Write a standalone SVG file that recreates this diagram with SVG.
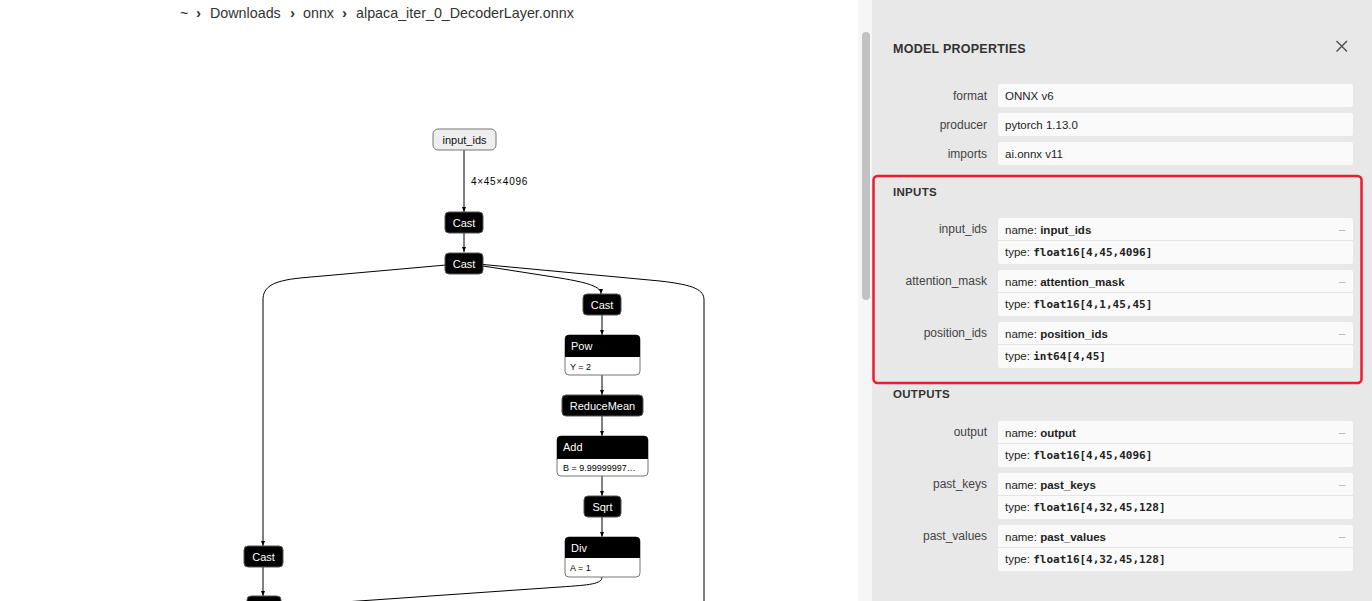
<svg xmlns="http://www.w3.org/2000/svg" width="1372" height="601" viewBox="0 0 1372 601">
<defs>
<marker id="arr" viewBox="0 0 10 8" refX="10" refY="4" markerWidth="5" markerHeight="4" markerUnits="userSpaceOnUse" orient="auto"><path d="M0,0 L10,4 L0,8 z" fill="#000"/></marker>
<style>
text{font-family:"Liberation Sans",Arial,sans-serif}
.crumb{font-size:14.3px;fill:#333}
.chev{font-size:15px;fill:#333;font-weight:bold}
.blk{fill:#000;stroke:#555;stroke-width:1}
.body{fill:#fff;stroke:#777;stroke-width:1}
.nt{font-size:11px;fill:#fff}
.nc{font-size:11px;fill:#fff;text-anchor:middle}
.at{font-size:9px;fill:#000}
.edge{fill:none;stroke:#000;stroke-width:1}
.elab{font-size:10px;fill:#000;letter-spacing:0.7px}
.hdr{font-size:11.5px;font-weight:bold;fill:#333;letter-spacing:0.3px}
.title{font-size:12.5px;font-weight:bold;fill:#333;letter-spacing:0.25px}
.lab{font-size:12px;fill:#444;text-anchor:end}
.val{font-size:11.5px;fill:#222}
.box{fill:#fafafa}
.div{stroke:#e4e4e4;stroke-width:1}
.b{font-weight:bold}
.mono{font-family:"DejaVu Sans Mono",monospace;font-weight:bold;font-size:11px}
.dash{font-size:11px;fill:#aaa;text-anchor:middle}
</style>
</defs>
<rect x="0" y="0" width="1372" height="601" fill="#fff"/>

<g id="breadcrumb">
<text class="crumb" x="180" y="18">~</text>
<text class="chev" x="196" y="18">›</text>
<text class="crumb" x="210" y="18">Downloads</text>
<text class="chev" x="290" y="18">›</text>
<text class="crumb" x="303" y="18">onnx</text>
<text class="chev" x="342" y="18">›</text>
<text class="crumb" x="356" y="18">alpaca_iter_0_DecoderLayer.onnx</text>
</g>

<g id="connectors">
<path class="edge" d="M464,150 L464,212" marker-end="url(#arr)"/>
<text class="elab" x="471" y="185">4×45×4096</text>
<path class="edge" d="M464,233 L464,252" marker-end="url(#arr)"/>
<path class="edge" d="M446,265 L300,278 C272,281 263,287 263,300 L263,546" marker-end="url(#arr)"/>
<path class="edge" d="M483,266 L560,278 C590,283 601,287 601,294" marker-end="url(#arr)"/>
<path class="edge" d="M483,264.5 L660,281 C695,285 704,290 704,300 L704,601"/>
<path class="edge" d="M602,315 L602,335" marker-end="url(#arr)"/>
<path class="edge" d="M602,375 L602,395" marker-end="url(#arr)"/>
<path class="edge" d="M602,416 L602,436" marker-end="url(#arr)"/>
<path class="edge" d="M602,476 L602,496" marker-end="url(#arr)"/>
<path class="edge" d="M602,517 L602,537" marker-end="url(#arr)"/>
<path class="edge" d="M602,577 C602,584 590,585 560,587 L330,603"/>
<path class="edge" d="M263,567 L263,596" marker-end="url(#arr)"/>
</g>

<g id="node-input_ids">
<rect x="433" y="129" width="63" height="21" rx="5" fill="#eee" stroke="#777"/>
<text x="464.5" y="143.5" font-size="11" fill="#111" text-anchor="middle">input_ids</text>
</g>
<g id="node-cast1">
<rect class="blk" x="445" y="212" width="38" height="21" rx="4"/>
<text class="nc" x="464" y="226.5">Cast</text>
</g>
<g id="node-cast2">
<rect class="blk" x="445" y="253" width="38" height="21" rx="4"/>
<text class="nc" x="464" y="267.5">Cast</text>
</g>
<g id="node-cast3">
<rect class="blk" x="583" y="294" width="38" height="21" rx="4"/>
<text class="nc" x="602" y="308.5">Cast</text>
</g>
<g id="node-pow">
<rect class="body" x="565" y="335" width="75" height="40" rx="4"/>
<path d="M565,357 L565,339 Q565,335 569,335 L636,335 Q640,335 640,339 L640,357 Z" fill="#000"/>
<text class="nt" x="571" y="350">Pow</text>
<text class="at" x="570" y="369.5">Y = 2</text>
</g>
<g id="node-reducemean">
<rect class="blk" x="562" y="395" width="81" height="21" rx="4"/>
<text class="nc" x="602.5" y="409.5">ReduceMean</text>
</g>
<g id="node-add">
<rect class="body" x="557" y="436" width="91" height="40" rx="4"/>
<path d="M557,459 L557,440 Q557,436 561,436 L644,436 Q648,436 648,440 L648,459 Z" fill="#000"/>
<text class="nt" x="563" y="451">Add</text>
<text class="at" x="563" y="470.5">B = 9.99999997…</text>
</g>
<g id="node-sqrt">
<rect class="blk" x="584" y="496" width="37" height="21" rx="4"/>
<text class="nc" x="602.5" y="510.5">Sqrt</text>
</g>
<g id="node-div">
<rect class="body" x="565" y="537" width="75" height="40" rx="4"/>
<path d="M565,558 L565,541 Q565,537 569,537 L636,537 Q640,537 640,541 L640,558 Z" fill="#000"/>
<text class="nt" x="571" y="552">Div</text>
<text class="at" x="570" y="571">A = 1</text>
</g>
<g id="node-cast4">
<rect class="blk" x="244" y="546" width="39" height="21" rx="4"/>
<text class="nc" x="263.5" y="560.5">Cast</text>
</g>
<g id="node-bottom">
<rect class="blk" x="247" y="596" width="34" height="21" rx="4"/>
</g>

<g id="scrollbar">
<rect x="858" y="0" width="14" height="601" fill="#f6f6f6"/>
<rect x="862" y="32" width="8" height="268" rx="4" fill="#c2c2c2"/>
</g>

<g id="panel">
<rect x="872" y="0" width="500" height="601" fill="#e8e8e8"/>
<text class="title" x="893" y="53">MODEL PROPERTIES</text>
<path d="M1336.5,41 L1347,51.5 M1347,41 L1336.5,51.5" stroke="#555" stroke-width="1.5" fill="none"/>

<g id="prop-format">
<text class="lab" x="987" y="99.5">format</text>
<rect class="box" x="998" y="84" width="355" height="23" rx="2"/>
<text class="val" x="1005" y="99.5">ONNX v6</text>
</g>
<g id="prop-producer">
<text class="lab" x="987" y="128.5">producer</text>
<rect class="box" x="998" y="113" width="355" height="23" rx="2"/>
<text class="val" x="1005" y="128.5">pytorch 1.13.0</text>
</g>
<g id="prop-imports">
<text class="lab" x="987" y="157.5">imports</text>
<rect class="box" x="998" y="142" width="355" height="23" rx="2"/>
<text class="val" x="1005" y="157.5">ai.onnx v11</text>
</g>

<text class="hdr" x="893" y="195.5">INPUTS</text>
<g id="in-input_ids">
<text class="lab" x="987" y="233">input_ids</text>
<rect class="box" x="998" y="218" width="355" height="46" rx="2"/>
<line class="div" x1="998" y1="240.5" x2="1353" y2="240.5"/>
<text class="val" x="1005" y="233.5">name: <tspan class="b">input_ids</tspan></text>
<text class="val" x="1005" y="256">type: <tspan class="mono">float16[4,45,4096]</tspan></text>
<text class="dash" x="1342" y="233">–</text>
</g>
<g id="in-attention_mask">
<text class="lab" x="987" y="285">attention_mask</text>
<rect class="box" x="998" y="270" width="355" height="46" rx="2"/>
<line class="div" x1="998" y1="292.5" x2="1353" y2="292.5"/>
<text class="val" x="1005" y="285.5">name: <tspan class="b">attention_mask</tspan></text>
<text class="val" x="1005" y="308">type: <tspan class="mono">float16[4,1,45,45]</tspan></text>
<text class="dash" x="1342" y="285">–</text>
</g>
<g id="in-position_ids">
<text class="lab" x="987" y="337">position_ids</text>
<rect class="box" x="998" y="322" width="355" height="46" rx="2"/>
<line class="div" x1="998" y1="344.5" x2="1353" y2="344.5"/>
<text class="val" x="1005" y="337.5">name: <tspan class="b">position_ids</tspan></text>
<text class="val" x="1005" y="360">type: <tspan class="mono">int64[4,45]</tspan></text>
<text class="dash" x="1342" y="337">–</text>
</g>

<text class="hdr" x="893" y="398">OUTPUTS</text>
<g id="out-output">
<text class="lab" x="987" y="436">output</text>
<rect class="box" x="998" y="421" width="355" height="46" rx="2"/>
<line class="div" x1="998" y1="443.5" x2="1353" y2="443.5"/>
<text class="val" x="1005" y="436.5">name: <tspan class="b">output</tspan></text>
<text class="val" x="1005" y="459">type: <tspan class="mono">float16[4,45,4096]</tspan></text>
<text class="dash" x="1342" y="436">–</text>
</g>
<g id="out-past_keys">
<text class="lab" x="987" y="488">past_keys</text>
<rect class="box" x="998" y="473" width="355" height="46" rx="2"/>
<line class="div" x1="998" y1="495.5" x2="1353" y2="495.5"/>
<text class="val" x="1005" y="488.5">name: <tspan class="b">past_keys</tspan></text>
<text class="val" x="1005" y="511">type: <tspan class="mono">float16[4,32,45,128]</tspan></text>
<text class="dash" x="1342" y="488">–</text>
</g>
<g id="out-past_values">
<text class="lab" x="987" y="540">past_values</text>
<rect class="box" x="998" y="525" width="355" height="46" rx="2"/>
<line class="div" x1="998" y1="547.5" x2="1353" y2="547.5"/>
<text class="val" x="1005" y="540.5">name: <tspan class="b">past_values</tspan></text>
<text class="val" x="1005" y="563">type: <tspan class="mono">float16[4,32,45,128]</tspan></text>
<text class="dash" x="1342" y="540">–</text>
</g>

<rect id="highlight" x="873.5" y="176" width="488" height="207" rx="4" fill="none" stroke="#ee1c2e" stroke-width="2.5"/>
</g>
</svg>
